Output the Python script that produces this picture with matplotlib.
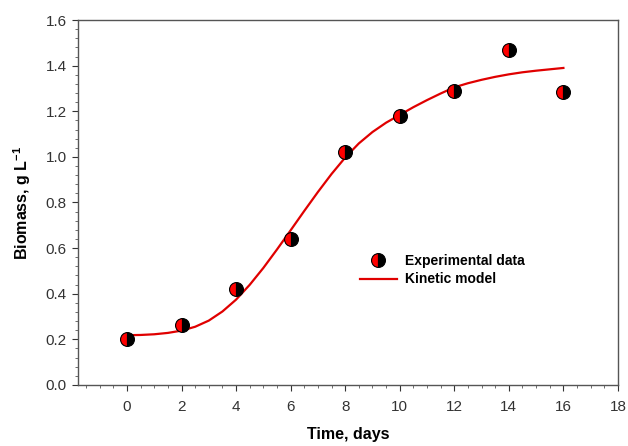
import numpy as np
import matplotlib
matplotlib.use('Agg')
import matplotlib.pyplot as plt
from matplotlib.ticker import MultipleLocator, FormatStrFormatter

# experimental points
days = [0, 2, 4, 6, 8, 10, 12, 14, 16]
biomass = [0.20, 0.263, 0.42, 0.64, 1.02, 1.18, 1.288, 1.47, 1.285]

# kinetic model, every half day
model_t = [0, 0.5, 1, 1.5, 2, 2.5, 3, 3.5, 4, 4.5, 5, 5.5, 6, 6.5, 7, 7.5, 8,
           8.5, 9, 9.5, 10, 10.5, 11, 11.5, 12, 12.5, 13, 13.5, 14, 14.5, 15, 15.5, 16]
model_x = [0.218, 0.219, 0.222, 0.228, 0.238, 0.255, 0.282, 0.322, 0.374, 0.439,
           0.513, 0.594, 0.678, 0.763, 0.846, 0.925, 0.997, 1.059, 1.109, 1.150,
           1.184, 1.218, 1.249, 1.278, 1.305, 1.323, 1.338, 1.351, 1.362, 1.371,
           1.378, 1.384, 1.390]

plt.rcParams['font.family'] = ['Liberation Sans', 'DejaVu Sans']
plt.rcParams['mathtext.fontset'] = 'custom'
plt.rcParams['mathtext.rm'] = 'Liberation Sans'
plt.rcParams['mathtext.bf'] = 'Liberation Sans:bold'

fig = plt.figure(figsize=(6.28, 4.46), dpi=100)
ax = fig.add_axes([0.124, 0.137, 0.86, 0.818])

ax.plot(days, biomass, 'o', markersize=10, fillstyle='left',
        markerfacecolor='red', markerfacecoloralt='black',
        markeredgecolor='black', markeredgewidth=0.8,
        linestyle='none', label='Experimental data', zorder=3)
ax.plot(model_t, model_x, '-', color='#e00000', linewidth=1.6,
        label='Kinetic model', zorder=2)

ax.set_xlim(-1.8, 18)
ax.set_ylim(0, 1.6)
ax.xaxis.set_major_locator(MultipleLocator(2))
ax.xaxis.set_minor_locator(MultipleLocator(0.5))
ax.yaxis.set_major_locator(MultipleLocator(0.2))
ax.yaxis.set_minor_locator(MultipleLocator(0.04))
ax.yaxis.set_major_formatter(FormatStrFormatter('%.1f'))
ax.tick_params(which='major', direction='out', length=4, width=0.8,
               labelsize=11, colors='#333333', pad=7)
ax.tick_params(which='minor', direction='out', length=2.5, width=0.6, colors='#555555')
ax.tick_params(axis='y', pad=4)
for s in ax.spines.values():
    s.set_color('#555555')
    s.set_linewidth(1.0)

ax.set_xlabel('Time, days', fontsize=11.5, fontweight='bold', labelpad=9)
ax.set_ylabel(r'Biomass, g L$^{\mathbf{-1}}$', fontsize=11.5, fontweight='bold', labelpad=9)

ax.legend(loc='center left', bbox_to_anchor=(0.50, 0.315), frameon=False,
          prop={'weight': 'bold', 'size': 10}, handlelength=2.6,
          handletextpad=0.6, labelspacing=0.35)

plt.savefig('out.png', dpi=100)
